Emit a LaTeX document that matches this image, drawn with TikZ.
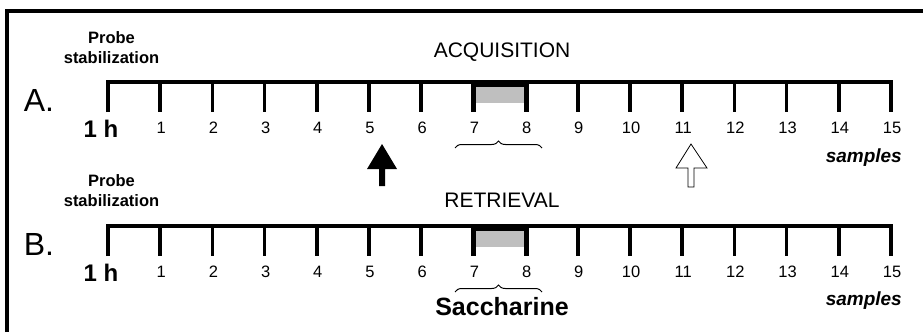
\documentclass[tikz,border=0pt]{standalone}
\usepackage{fontspec}
\setmainfont{Liberation Sans}
\usetikzlibrary{decorations.pathreplacing}
\begin{document}
\begin{tikzpicture}[x=1pt,y=-1pt,
  axisline/.style={line width=4pt, line join=miter},
  tickmark/.style={line width=3.5pt},
  thicktick/.style={line width=5pt},
  numlbl/.style={font=\fontsize{16.5}{18}\selectfont, anchor=base, inner sep=0pt},
  onehlbl/.style={font=\fontsize{24}{26}\selectfont\bfseries, anchor=base, inner sep=0pt},
  rowlbl/.style={font=\fontsize{32}{36}\selectfont, anchor=base, inner sep=0pt},
  titlelbl/.style={font=\fontsize{21}{24}\selectfont, anchor=base, inner sep=0pt},
  probelbl/.style={font=\fontsize{16.5}{20}\selectfont\bfseries, align=center, inner sep=0pt},
  samplbl/.style={font=\fontsize{19}{22}\selectfont\bfseries\itshape, anchor=base east, inner sep=0pt},
  bracestyle/.style={decorate, decoration={brace, amplitude=7pt}, line width=1pt},
  graybox/.style={fill=black!25}
]
\useasboundingbox (0,0) rectangle (923,332);
% frame (top and left edges)
\draw[line width=4pt] (6.5,332) -- (6.5,11) -- (923,11);

\foreach \row/\yy in {A/82, B/226}{
  % gray sampling box between 7 and 8
  \fill[graybox] (473,\yy) rectangle (526,\yy+21);
  \fill (473,\yy-2) rectangle (526,\yy+5);
  % main axis with end ticks
  \draw[axisline] (108,\yy+30) -- (108,\yy) -- (891,\yy) -- (891,\yy+30);
  \foreach \i in {1,...,14}{
    \draw[tickmark] ({108+\i*52.2},\yy) -- ({108+\i*52.2},\yy+30);
  }
  \draw[thicktick] (473,\yy) -- (473,\yy+30);
  \draw[thicktick] (526,\yy) -- (526,\yy+30);
  \foreach \i in {1,...,15}{
    \node[numlbl] (num\row\i) at ({108+\i*52.2+1},\yy+51) {\i};
  }
  \node[onehlbl] (oneh\row) at (101,\yy+55) {1 h};
  \draw[bracestyle] (455,\yy+66) -- (542,\yy+66);
}

\node[rowlbl] (labA) at (39,111) {A.};
\node[rowlbl] (labB) at (39,255) {B.};

\node[probelbl] (probeA) at (111.5,47.5) {Probe\\stabilization};
\node[probelbl] (probeB) at (111.5,191) {Probe\\stabilization};

\node[titlelbl] (titleA) at (502,57) {ACQUISITION};
\node[titlelbl] (titleB) at (502,207) {RETRIEVAL};

\node[samplbl] (sampA) at (902,162) {samples};
\node[samplbl] (sampB) at (902,305) {samples};

\node[font=\fontsize{25}{28}\selectfont\bfseries, anchor=base, inner sep=0pt] (sacch) at (502,315) {Saccharine};

% black arrow
\fill (382,144) -- (397,169) -- (385,169) -- (385,186) -- (379,186) -- (379,169) -- (367,169) -- cycle;
% white arrow
\draw[line width=0.8pt, fill=white] (691,144) -- (707,168) -- (694,168) -- (694,187) -- (688,187) -- (688,168) -- (676,168) -- cycle;
\end{tikzpicture}
\end{document}
